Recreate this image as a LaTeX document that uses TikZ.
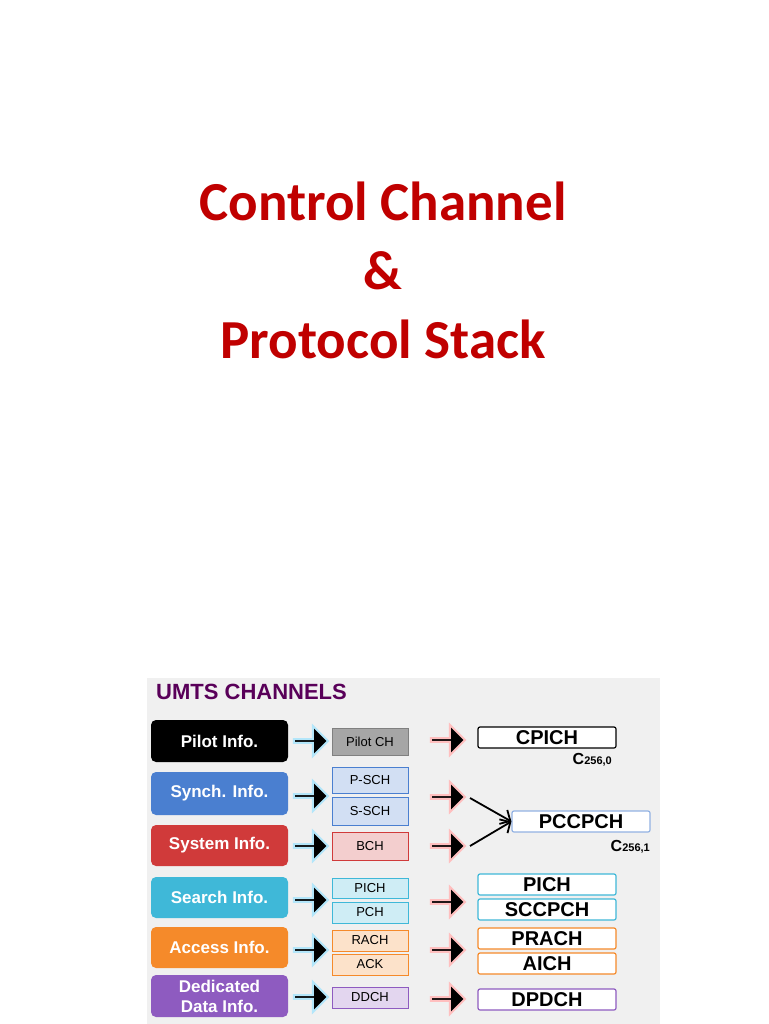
\documentclass[tikz,border=0pt]{standalone}
\usepackage{fontspec}
\setmainfont{Carlito}
\newfontfamily\arialf{Liberation Sans}
\usetikzlibrary{shapes.arrows,arrows.meta}
\definecolor{tred}{HTML}{C00000}
\definecolor{cgray}{HTML}{808080}
\definecolor{cblue}{HTML}{4A7FD0}
\definecolor{cred}{HTML}{D03A3A}
\definecolor{ccyan}{HTML}{3FB8D8}
\definecolor{corange}{HTML}{F58A2A}
\definecolor{cviolet}{HTML}{8E5BC0}
\begin{document}
\begin{tikzpicture}[x=1pt,y=-1pt,
  lbox/.style={rounded corners=5pt,minimum width=137pt,text=white,font=\arialf\bfseries\fontsize{17}{20}\selectfont,align=center,inner sep=0pt},
  mbox/.style={draw=#1,fill=#1!25,minimum width=76pt,font=\arialf\fontsize{13}{13}\selectfont,inner sep=0pt},
  rbox/.style={draw=#1,line width=1.2pt,fill=white,rounded corners=2pt,minimum width=138pt,minimum height=21pt,font=\arialf\bfseries\fontsize{20}{20}\selectfont,inner sep=0pt},
  barr/.style={single arrow,fill=black,minimum width=30pt,single arrow head extend=7pt,minimum height=34pt,inner sep=0pt,draw=#1,line width=2pt},
  code/.style={font=\arialf\bfseries\fontsize{16}{16}\selectfont,inner sep=0pt}]
\useasboundingbox (0,0) rectangle (768,1024);
\fill[white] (0,0) rectangle (768,1024);
\node[text=tred,font=\bfseries\fontsize{55}{69}\selectfont,align=center] (title) at (383,270) {Control Channel\\\&\\Protocol Stack};
\fill[gray!12] (147,678) rectangle (660,1024);
\node[anchor=west,text=violet!70!black,font=\arialf\bfseries\fontsize{22}{22}\selectfont,inner sep=0pt] (hdr) at (156,692) {UMTS CHANNELS};
% left
\node[lbox,fill=black,minimum height=42pt] (l1) at (219.5,741) {Pilot Info.};
\node[lbox,fill=cblue,minimum height=43pt] (l2) at (219.5,793.5) {Synch. Info.};
\node[lbox,fill=cred,minimum height=41pt] (l3) at (219.5,845.5) {System Info.};
\node[lbox,fill=ccyan,minimum height=41pt] (l4) at (219.5,897.5) {Search Info.};
\node[lbox,fill=corange,minimum height=41pt] (l5) at (219.5,947.5) {Access Info.};
\node[lbox,fill=cviolet,minimum height=42pt] (l6) at (219.5,996) {Dedicated\\Data Info.};
% arrows
\foreach \y/\n in {741/a1,796/a2,846/a3,900/a4,950/a5,997/a6}
  \node[barr=cyan!30] (\n) at (310,\y) {};
\foreach \y/\n in {740/b1,797/b2,846/b3,902/b4,950/b5,999/b6}
  \node[barr=red!25] (\n) at (447,\y) {};
% middle
\node[mbox=cgray,fill=cgray!70,minimum height=27pt] (m1) at (370,741.5) {Pilot CH};
\node[mbox=cblue,minimum height=26pt] (m2) at (370,780) {P-SCH};
\node[mbox=cblue,minimum height=28pt] (m3) at (370,811) {S-SCH};
\node[mbox=cred,minimum height=28pt] (m4) at (370,846) {BCH};
\node[mbox=ccyan,minimum height=20pt] (m5) at (370,888) {PICH};
\node[mbox=ccyan,minimum height=21pt] (m6) at (370,912.5) {PCH};
\node[mbox=corange,minimum height=21pt] (m7) at (370,940.5) {RACH};
\node[mbox=corange,minimum height=21pt] (m8) at (370,964.5) {ACK};
\node[mbox=cviolet,minimum height=21pt] (m9) at (370,997.5) {DDCH};
% right
\node[rbox=black] (r1) at (547,737.5) {CPICH};
\node[rbox=cblue!60] (r2) at (581,821.5) {PCCPCH};
\node[rbox=ccyan] (r3) at (547,884.5) {PICH};
\node[rbox=ccyan] (r4) at (547,909.5) {SCCPCH};
\node[rbox=corange] (r5) at (547,938.5) {PRACH};
\node[rbox=corange] (r6) at (547,963.5) {AICH};
\node[rbox=cviolet] (r7) at (547,999.5) {DPDCH};
\node[code,anchor=east] (c1) at (612,760) {C\fontsize{11}{11}\selectfont 256,0};
\node[code,anchor=east] (c2) at (650,847) {C\fontsize{11}{11}\selectfont 256,1};
\coordinate (s1) at (470,798);
\coordinate (s2) at (470,846);
\draw[line width=1.8pt,-{Straight Barb[length=8pt]}] (s1) -- (r2.west);
\draw[line width=1.8pt,-{Straight Barb[length=8pt]}] (s2) -- (r2.west);
\end{tikzpicture}
\end{document}
